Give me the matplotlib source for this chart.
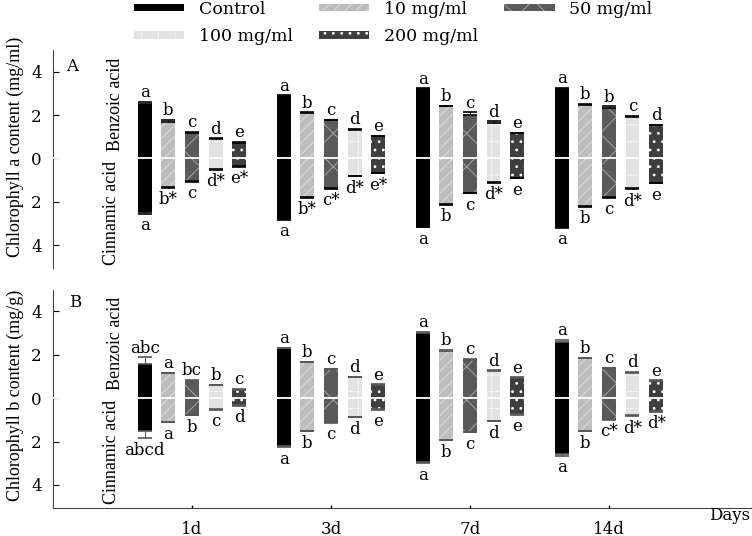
import numpy as np
import matplotlib
matplotlib.use('Agg')
import matplotlib.pyplot as plt
from matplotlib.patches import Patch

# the reference is a horizontally stretched Times face: a wide serif for the
# horizontal texts, the narrow one for the rotated texts
plt.rcParams['font.family'] = ['DejaVu Serif']
plt.rcParams['hatch.linewidth'] = 0.8
ROT_FONT = ['Liberation Serif', 'DejaVu Serif']

days = ['1d', '3d', '7d', '14d']
treatments = ['Control', '10 mg/ml', '50 mg/ml', '100 mg/ml', '200 mg/ml']

# chlorophyll a, benzoic acid (upper half), one list per treatment over the days
a_benzoic = [[2.50, 2.88, 3.20, 3.20],
             [1.70, 2.08, 2.40, 2.45],
             [1.18, 1.76, 2.02, 2.32],
             [0.90, 1.30, 1.63, 1.90],
             [0.73, 1.02, 1.17, 1.53]]
a_benzoic_err = [[0.10, 0.03, 0.03, 0.04],
                 [0.08, 0.05, 0.04, 0.06],
                 [0.05, 0.03, 0.10, 0.08],
                 [0.03, 0.06, 0.08, 0.05],
                 [0.02, 0.02, 0.02, 0.03]]
# chlorophyll a, cinnamic acid (lower half)
a_cinnamic = [[2.48, 2.80, 3.15, 3.15],
              [1.32, 1.77, 2.10, 2.17],
              [1.04, 1.37, 1.58, 1.78],
              [0.50, 0.80, 1.08, 1.38],
              [0.36, 0.66, 0.89, 1.12]]
a_cinnamic_err = [[0.08, 0.03, 0.03, 0.04],
                  [0.03, 0.03, 0.04, 0.05],
                  [0.03, 0.03, 0.03, 0.03],
                  [0.03, 0.03, 0.03, 0.03],
                  [0.02, 0.02, 0.02, 0.02]]

# chlorophyll b
b_benzoic = [[1.55, 2.28, 3.00, 2.58],
             [1.13, 1.64, 2.18, 1.82],
             [0.80, 1.32, 1.76, 1.36],
             [0.58, 0.96, 1.24, 1.16],
             [0.38, 0.60, 0.92, 0.78]]
b_benzoic_err = [[0.32, 0.04, 0.05, 0.10],
                 [0.03, 0.03, 0.03, 0.03],
                 [0.03, 0.03, 0.03, 0.03],
                 [0.03, 0.03, 0.03, 0.03],
                 [0.03, 0.03, 0.03, 0.03]]
b_cinnamic = [[1.52, 2.22, 2.95, 2.57],
              [1.08, 1.50, 1.92, 1.50],
              [0.76, 1.10, 1.55, 0.98],
              [0.50, 0.85, 1.04, 0.80],
              [0.33, 0.52, 0.75, 0.60]]
b_cinnamic_err = [[0.32, 0.05, 0.05, 0.08],
                  [0.03, 0.03, 0.03, 0.03],
                  [0.03, 0.03, 0.03, 0.03],
                  [0.03, 0.03, 0.03, 0.03],
                  [0.03, 0.03, 0.03, 0.03]]

# significance letters
a_up_letters = [['a', 'a', 'a', 'a'],
                ['b', 'b', 'b', 'b'],
                ['c', 'c', 'c', 'b'],
                ['d', 'd', 'd', 'c'],
                ['e', 'e', 'e', 'd']]
a_low_letters = [['a', 'a', 'a', 'a'],
                 ['b*', 'b*', 'b', 'b'],
                 ['c', 'c*', 'c', 'c'],
                 ['d*', 'd*', 'd*', 'd*'],
                 ['e*', 'e*', 'e', 'e']]
b_up_letters = [['abc', 'a', 'a', 'a'],
                ['a', 'b', 'b', 'b'],
                ['bc', 'c', 'c', 'c'],
                ['b', 'd', 'd', 'd'],
                ['c', 'e', 'e', 'e']]
b_low_letters = [['abcd', 'a', 'a', 'a'],
                 ['a', 'b', 'b', 'b'],
                 ['b', 'c', 'c', 'c*'],
                 ['c', 'd', 'd', 'd*'],
                 ['d', 'e', 'e', 'd*']]

# face colour, hatch colour, hatch
styles = [('#000000', '#000000', ''),
          ('#bdbdbd', '#d9d9d9', '///'),
          ('#5a5a5a', '#9c9c9c', 'x'),
          ('#e2e2e2', '#f3f3f3', '+'),
          ('#3e3e3e', '#ffffff', '..')]

pos = np.arange(1, len(days) + 1)
step = 0.17
width = 0.10


def panel(ax, up, up_err, low, low_err, up_lab, low_lab, err_col):
    for i in range(len(treatments)):
        x = pos + (i - 2) * step
        fc, hc, ht = styles[i]
        u = np.array(up[i])
        d = -np.array(low[i])
        ax.bar(x, u, width, color=fc, edgecolor=hc, hatch=ht, lw=0, zorder=2)
        ax.bar(x, d, width, color=fc, edgecolor=hc, hatch=ht, lw=0, zorder=2)
        ue = np.array(up_err[i])
        le = np.array(low_err[i])
        ax.errorbar(x, u, yerr=[np.zeros(4), ue], fmt='none', ecolor=err_col,
                    elinewidth=0.8, capsize=5, capthick=1.2, zorder=3)
        ax.errorbar(x, d, yerr=[le, np.zeros(4)], fmt='none', ecolor=err_col,
                    elinewidth=0.8, capsize=5, capthick=1.2, zorder=3)
        for j in range(len(days)):
            ax.annotate(up_lab[i][j], (x[j], u[j] + ue[j]), xytext=(0, 0.5),
                        textcoords='offset points', ha='center', va='bottom', fontsize=12)
            ax.annotate(low_lab[i][j], (x[j], d[j] - le[j]), xytext=(0, -2.5),
                        textcoords='offset points', ha='center', va='top', fontsize=12)
    ax.axhline(0, color='white', lw=1.3, zorder=4)
    ax.set_xlim(0, 5.03)
    ax.set_yticks([-4, -2, 0, 2, 4])
    ax.set_yticklabels(['4', '2', '0', '2', '4'], fontsize=12)
    ax.tick_params(axis='y', direction='in', length=4, width=0.8, pad=8)
    for s in ['top', 'right']:
        ax.spines[s].set_visible(False)
    ax.spines['left'].set_color('#444444')
    ax.text(0.45, 2.5, 'Benzoic acid', rotation=90, ha='center', va='center',
            fontsize=13, family=ROT_FONT)
    ax.text(0.42, -2.5, 'Cinnamic acid', rotation=90, ha='center', va='center',
            fontsize=13, family=ROT_FONT)


fig = plt.figure(figsize=(7.52, 5.36), dpi=100)
axA = fig.add_axes([0.0705, 0.5, 0.9295, 0.4067])
axB = fig.add_axes([0.0705, 0.0522, 0.9295, 0.4067])

panel(axA, a_benzoic, a_benzoic_err, a_cinnamic, a_cinnamic_err,
      a_up_letters, a_low_letters, 'black')
axA.set_ylim(-5.05, 5.0)
axA.spines['bottom'].set_visible(False)
axA.set_xticks([])
axA.text(0.14, 4.25, 'A', ha='center', va='center', fontsize=12)

panel(axB, b_benzoic, b_benzoic_err, b_cinnamic, b_cinnamic_err,
      b_up_letters, b_low_letters, '#555555')
axB.set_ylim(-5.06, 4.97)
axB.set_xticks(pos)
axB.set_xticklabels(days, fontsize=12)
axB.tick_params(axis='x', direction='in', length=2, width=1, pad=9)
axB.spines['bottom'].set_color('#444444')
axB.text(0.16, 4.4, 'B', ha='center', va='center', fontsize=12)

fig.text(15 / 752, 1 - 147 / 536, 'Chlorophyll a content (mg/ml)', rotation=90,
         ha='center', va='center', fontsize=13, family=ROT_FONT)
fig.text(15 / 752, 1 - 395 / 536, 'Chlorophyll b content (mg/g)', rotation=90,
         ha='center', va='center', fontsize=13, family=ROT_FONT)
fig.text(0.998, 1 - 515 / 536, 'Days', ha='right', va='center', fontsize=12)

handles = [Patch(facecolor=fc, edgecolor=hc, hatch=ht, lw=0) for fc, hc, ht in styles]
order = [0, 3, 1, 4, 2]
fig.legend([handles[k] for k in order], [treatments[k] for k in order], ncol=3,
           loc='upper left', bbox_to_anchor=(133 / 752, 1.0), frameon=False,
           handlelength=2.9, handleheight=0.3, handletextpad=0.85,
           columnspacing=1.5, labelspacing=0.6, borderpad=0.05,
           borderaxespad=0, fontsize=12.5)

fig.savefig('out.png', dpi=100)
